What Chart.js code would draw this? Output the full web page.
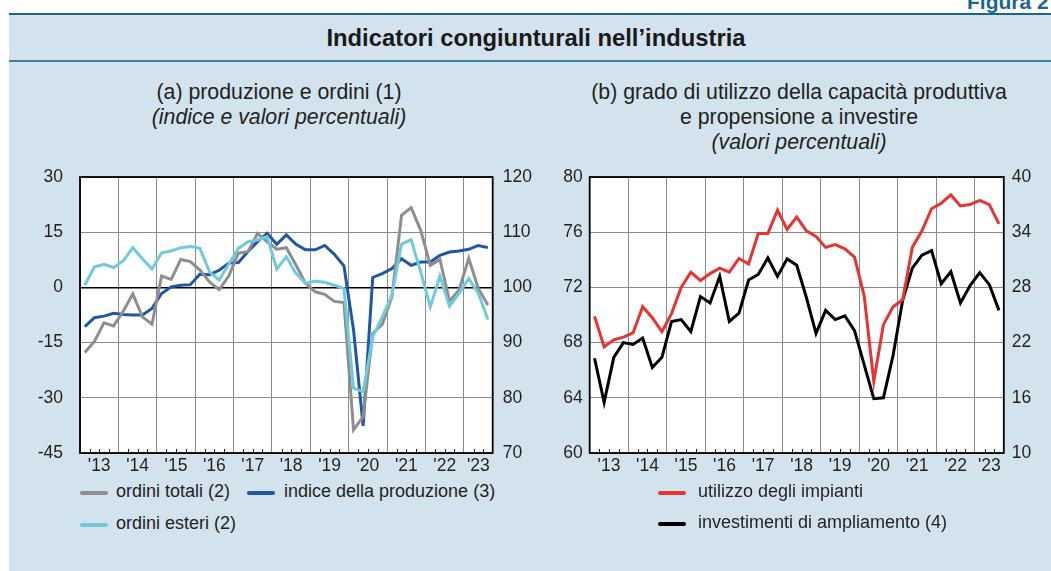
<!DOCTYPE html>
<html>
<head>
<meta charset="utf-8">
<script src="https://cdn.jsdelivr.net/npm/chart.js@4/dist/chart.umd.min.js"></script>
<style>
  body { margin:0; width:1051px; height:571px; background:#fff; overflow:hidden; position:relative;
         font-family:"Liberation Sans", Arial, Helvetica, sans-serif; color:#231f20; }
  #panel { position:absolute; left:9px; top:12.5px; width:1042px; height:559px; background:#d2e3ed;
           border-top:2px solid #1c6488; box-sizing:border-box; }
  #fig { position:absolute; left:967px; top:-9px; font-weight:bold; font-size:21px; line-height:21px; color:#1e6490; white-space:nowrap; }
  #title { position:absolute; left:15px; width:1042px; top:25.5px; text-align:center; font-weight:bold; font-size:23.8px; line-height:24px; color:#1a1a1a; }
  #rule { position:absolute; left:9px; width:1042px; top:60px; height:2px; background:#3f7fa2; }
  .sub { position:absolute; width:460px; text-align:center; font-size:21.3px; line-height:25px; white-space:nowrap; }
  .it { font-style:italic; }
  canvas { position:absolute; }
  .lg { position:absolute; font-size:18px; line-height:18px; white-space:nowrap; }
  .sw { position:absolute; width:28px; height:4px; border-radius:2px; }
</style>
</head>
<body>
<div id="panel"></div>
<div id="fig">Figura 2</div>
<div id="title">Indicatori congiunturali nell’industria</div>
<div id="rule"></div>

<div class="sub" style="left:49px;top:79.5px">(a) produzione e ordini (1)</div>
<div class="sub it" style="left:49px;top:104.5px">(indice e valori percentuali)</div>
<div class="sub" style="left:569px;top:79.5px">(b) grado di utilizzo della capacità produttiva</div>
<div class="sub" style="left:569px;top:104.5px">e propensione a investire</div>
<div class="sub it" style="left:569px;top:129.5px">(valori percentuali)</div>

<div style="position:absolute;left:0;top:160px;width:545px;height:320px"><canvas id="chartA"></canvas></div>
<div style="position:absolute;left:540px;top:160px;width:511px;height:320px"><canvas id="chartB"></canvas></div>

<div id="legendA"></div>
<div id="legendB"></div>

<script>
// trimestri 2013T1 - 2023T3
const quarters = [
  '2013T1','2013T2','2013T3','2013T4','2014T1','2014T2','2014T3','2014T4',
  '2015T1','2015T2','2015T3','2015T4','2016T1','2016T2','2016T3','2016T4',
  '2017T1','2017T2','2017T3','2017T4','2018T1','2018T2','2018T3','2018T4',
  '2019T1','2019T2','2019T3','2019T4','2020T1','2020T2','2020T3','2020T4',
  '2021T1','2021T2','2021T3','2021T4','2022T1','2022T2','2022T3','2022T4',
  '2023T1','2023T2','2023T3'
];
const yearLabels = ["'13","'14","'15","'16","'17","'18","'19","'20","'21","'22","'23"];

// (a) produzione e ordini
const ordiniTotali = [-17.7,-14.7,-9.6,-10.5,-6.5,-1.8,-8.0,-10.0,3.1,2.2,7.6,7.0,4.7,1.5,-0.6,3.1,
  9.3,9.7,14.7,12.4,10.4,10.8,6.1,1.1,-1.2,-1.9,-3.8,-4.1,-38.7,-35.1,-12.5,-10.0,
  -2.5,19.6,21.7,15.5,6.0,7.6,-3.7,-0.7,7.9,-0.3,-4.8];
const ordiniEsteri = [0.6,5.6,6.3,5.4,7.2,10.8,7.8,5.0,9.4,9.9,10.8,11.1,10.6,4.2,2.0,6.3,
  10.6,12.4,12.9,13.8,5.0,8.3,3.8,1.1,1.7,1.4,0.6,-0.3,-27.4,-28.3,-13.4,-8.0,
  -2.1,11.7,13.0,4.2,-5.3,3.1,-5.1,-1.6,2.4,-1.6,-8.7];
const produzione = [92.9,94.5,94.8,95.3,95.1,95.0,95.0,96.2,98.9,100.1,100.4,100.5,102.4,102.3,103.1,104.4,
  104.5,106.5,108.3,109.8,107.8,109.5,107.8,106.8,106.8,107.6,106.0,103.9,92.3,74.9,101.8,102.5,
  103.4,105.2,104.0,104.6,104.6,105.8,106.4,106.6,106.9,107.6,107.2];

// (b) utilizzo impianti e investimenti
const utilizzo = [69.9,67.7,68.2,68.4,68.7,70.6,69.8,68.8,70.1,72.0,73.1,72.5,73.0,73.4,73.1,74.1,
  73.7,75.9,75.9,77.6,76.2,77.1,76.1,75.7,74.9,75.1,74.8,74.2,71.4,65.2,69.3,70.6,
  71.1,74.9,76.1,77.7,78.1,78.7,77.9,78.0,78.3,78.0,76.6];
const investimenti = [20.3,15.5,20.4,22.0,21.8,22.5,19.3,20.4,24.3,24.5,23.2,27.0,26.3,29.2,24.3,25.2,
  28.8,29.4,31.2,29.2,31.1,30.4,26.9,23.0,25.5,24.5,24.9,23.3,19.6,15.9,16.0,20.6,
  26.6,30.1,31.5,32.0,28.4,29.7,26.3,28.2,29.6,28.3,25.5];

const COL_GRAY = '#8e8e8e', COL_LBLUE = '#6fcbdc', COL_BLUE = '#1f56a6', COL_RED = '#e83330', COL_BLACK = '#000000';
const TXT = '#231f20', GRID = '#8a8a8a';
const FONT = '"Liberation Sans", Arial, Helvetica, sans-serif';

// centro del trimestre sull'asse del tempo
function xOf(q) {
  const y = parseInt(q.slice(0, 4)), t = parseInt(q.slice(5));
  return y + (t - 1) * 0.25 + 0.125;
}
const xMin = xOf(quarters[0]) - 0.125;
const xMax = xOf(quarters[quarters.length - 1]) + 0.125;

function series(vals) {
  return quarters.map((q, i) => ({ x: xOf(q), y: vals[i] }));
}

// riquadro bianco, cornice e tacche trimestrali
const framePlugin = {
  id: 'frame',
  beforeDraw(chart) {
    const { ctx, chartArea: a } = chart;
    ctx.save();
    ctx.fillStyle = '#fff';
    ctx.fillRect(a.left, a.top, a.right - a.left, a.bottom - a.top);
    ctx.restore();
  },
  afterDraw(chart) {
    const { ctx, chartArea: a } = chart;
    const xs = chart.scales.x;
    ctx.save();
    ctx.strokeStyle = '#222';
    ctx.lineWidth = 1;
    quarters.forEach(q => {
      const v = xOf(q) - 0.125;
      if (Number.isInteger(v)) return;
      const px = Math.round(xs.getPixelForValue(v)) + 0.5;
      ctx.beginPath();
      ctx.moveTo(px, a.bottom);
      ctx.lineTo(px, a.bottom - 4);
      ctx.stroke();
    });
    ctx.strokeStyle = '#000';
    ctx.lineWidth = 1.8;
    ctx.strokeRect(a.left, a.top, a.right - a.left, a.bottom - a.top);
    ctx.restore();
  }
};

function xScale() {
  return {
    type: 'linear', min: xMin, max: xMax,
    afterBuildTicks: (scale) => {
      const t = [];
      yearLabels.forEach((lab, k) => {
        const y = 2013 + k;
        t.push({ value: y });
        const mid = (y + 1 <= xMax) ? y + 0.5 : (y + xMax) / 2;
        t.push({ value: mid });
      });
      scale.ticks = t;
    },
    afterFit: (scale) => { scale.height = 27; scale.paddingLeft = 0; scale.paddingRight = 0; },
    ticks: {
      autoSkip: false, maxRotation: 0, padding: 3, color: TXT,
      font: { family: FONT, size: 17.5 },
      callback: (v) => Number.isInteger(v) ? '' : yearLabels[Math.floor(v) - 2013]
    },
    grid: {
      drawTicks: false,
      color: (c) => Number.isInteger(c.tick.value) ? GRID : 'rgba(0,0,0,0)',
      lineWidth: 1
    },
    border: { display: false }
  };
}

function yScale(pos, min, max, step, width, pad, grid, zeroAt) {
  return {
    type: 'linear', position: pos, min: min, max: max,
    afterFit: (scale) => { scale.width = width; scale.paddingTop = 0; scale.paddingBottom = 0; },
    ticks: { stepSize: step, padding: pad, color: TXT, font: { family: FONT, size: 17.5 } },
    grid: grid ? {
      drawTicks: false,
      color: (c) => c.tick.value === zeroAt ? '#000' : GRID,
      lineWidth: (c) => c.tick.value === zeroAt ? 1.4 : 1
    } : { drawOnChartArea: false, drawTicks: false },
    border: { display: false }
  };
}

function line(label, vals, color, axis) {
  return {
    label: label, data: series(vals), yAxisID: axis,
    borderColor: color, backgroundColor: color, borderWidth: 3,
    pointRadius: 0, tension: 0, fill: false
  };
}

const common = {
  responsive: true, maintainAspectRatio: false, animation: false,
  layout: { autoPadding: false, padding: { top: 17, left: 0, right: 0, bottom: 0 } },
  plugins: { legend: { display: false }, tooltip: { enabled: false } }
};

new Chart(document.getElementById('chartA'), {
  type: 'line',
  data: {
    datasets: [
      line('ordini esteri (2)', ordiniEsteri, COL_LBLUE, 'y'),
      line('ordini totali (2)', ordiniTotali, COL_GRAY, 'y'),
      line('indice della produzione (3)', produzione, COL_BLUE, 'y1')
    ]
  },
  options: Object.assign({}, common, {
    scales: {
      x: xScale(),
      y: yScale('left', -45, 30, 15, 80, 17, true, 0),
      y1: yScale('right', 70, 120, 10, 52.3, 10, false)
    }
  }),
  plugins: [framePlugin]
});

new Chart(document.getElementById('chartB'), {
  type: 'line',
  data: {
    datasets: [
      line('utilizzo degli impianti', utilizzo, COL_RED, 'y'),
      line('investimenti di ampliamento (4)', investimenti, COL_BLACK, 'y1')
    ]
  },
  options: Object.assign({}, common, {
    scales: {
      x: xScale(),
      y: yScale('left', 60, 80, 4, 49.7, 7, true, null),
      y1: yScale('right', 10, 40, 6, 47.2, 8, false)
    }
  }),
  plugins: [framePlugin]
});

// legende
function legendItem(parent, color, text, sx, tx, cy) {
  const sw = document.createElement('div');
  sw.className = 'sw';
  sw.style.left = sx + 'px'; sw.style.top = (cy - 2) + 'px'; sw.style.background = color;
  const lb = document.createElement('div');
  lb.className = 'lg';
  lb.style.left = tx + 'px'; lb.style.top = (cy - 10.6) + 'px';
  lb.textContent = text;
  parent.appendChild(sw); parent.appendChild(lb);
}
const lA = document.getElementById('legendA'), lB = document.getElementById('legendB');
legendItem(lA, COL_GRAY, 'ordini totali (2)', 80, 116, 493);
legendItem(lA, COL_BLUE, 'indice della produzione (3)', 247, 284, 493);
legendItem(lA, COL_LBLUE, 'ordini esteri (2)', 80, 116, 524.5);
legendItem(lB, COL_RED, 'utilizzo degli impianti', 658, 698, 492.5);
legendItem(lB, COL_BLACK, 'investimenti di ampliamento (4)', 658, 698, 524);
</script>
</body>
</html>
